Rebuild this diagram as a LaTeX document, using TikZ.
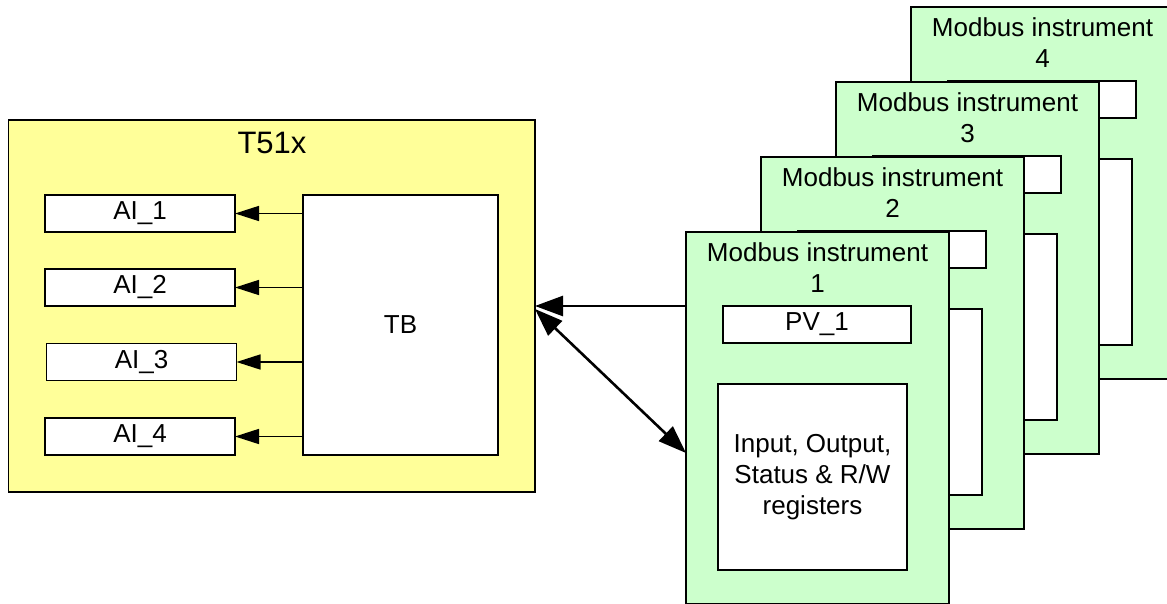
\documentclass[tikz,border=0pt]{standalone}
\usepackage{fontspec}
\setmainfont{Liberation Sans}
\usetikzlibrary{arrows.meta}
\definecolor{ylw}{HTML}{FFFF99}
\definecolor{grn}{HTML}{CCFFCC}
\begin{document}
\begin{tikzpicture}[x=1pt,y=-1pt,
  txt/.style={font=\fontsize{26}{31}\selectfont,align=center,inner sep=0pt},
  frame/.style={draw=black,line width=1.3pt,inner sep=0pt,outer sep=0pt},
  ylwbox/.style={frame,fill=ylw,minimum width=526.5pt,minimum height=372pt},
  whitebox/.style={frame,fill=white,txt},
  aibox/.style={whitebox,minimum width=190pt,minimum height=37pt},
  instbox/.style={frame,fill=grn,minimum width=263pt,minimum height=372pt},
  pvbox/.style={whitebox,minimum width=188pt,minimum height=37pt},
  regbox/.style={whitebox,minimum width=189pt,minimum height=186pt},
  aiarrow/.style={line width=1.5pt,-{Triangle[length=24pt,width=15pt]}},
  mainarrow/.style={line width=2.6pt,-{Triangle[length=28pt,width=20pt]}},
  dblarrow/.style={line width=2.6pt,{Triangle[length=28pt,width=20pt]}-{Triangle[length=28pt,width=20pt]}}
]
\useasboundingbox (0,0) rectangle (1167,604);

% T51x block
\node[ylwbox] (t51x) at (271.75,306) {};
\node[txt,font=\fontsize{31}{36}\selectfont] (t51xtitle) at (272,143) {T51x};
\node[whitebox,minimum width=195pt,minimum height=260pt] (tb) at (400.5,325) {TB};
\node[aibox] (ai1) at (140,213.5) {AI\_1};
\node[aibox] (ai2) at (140,287.5) {AI\_2};
\node[aibox] (ai3) at (141.5,362) {AI\_3};
\node[aibox] (ai4) at (140,436.5) {AI\_4};
\draw[aiarrow] (tb.west |- ai1.east) -- (ai1.east);
\draw[aiarrow] (tb.west |- ai2.east) -- (ai2.east);
\draw[aiarrow] (tb.west |- ai3.east) -- (ai3.east);
\draw[aiarrow] (tb.west |- ai4.east) -- (ai4.east);

% Modbus instrument 4
\node[instbox] (inst4) at (1042.5,193) {};
\node[txt] (inst4title) at (1042.5,42.5) {Modbus instrument\\4};
\node[pvbox] (pv4) at (1042,99.5) {};
\node[regbox] (reg4) at (1037.5,252) {};
% Modbus instrument 3
\node[instbox] (inst3) at (967.5,268) {};
\node[txt] (inst3title) at (967.5,117.5) {Modbus instrument\\3};
\node[pvbox] (pv3) at (967,174.5) {};
\node[regbox] (reg3) at (962.5,327) {};
% Modbus instrument 2
\node[instbox] (inst2) at (892.5,343) {};
\node[txt] (inst2title) at (892.5,192.5) {Modbus instrument\\2};
\node[pvbox] (pv2) at (892,249.5) {};
\node[regbox] (reg2) at (887.5,402) {};
% Modbus instrument 1
\node[instbox] (inst1) at (817.5,418) {};
\node[txt] (inst1title) at (817.5,267.5) {Modbus instrument\\1};
\node[pvbox] (pv1) at (817,324.5) {PV\_1};
\node[regbox] (reg1) at (812.5,477) {Input, Output,\\Status \& R/W\\registers};

% connections
\draw[mainarrow] (inst1.west |- t51x.east) -- (t51x.east);
\draw[dblarrow] ([yshift=-3pt]t51x.east) -- ([yshift=-35pt]inst1.west);
\end{tikzpicture}
\end{document}
